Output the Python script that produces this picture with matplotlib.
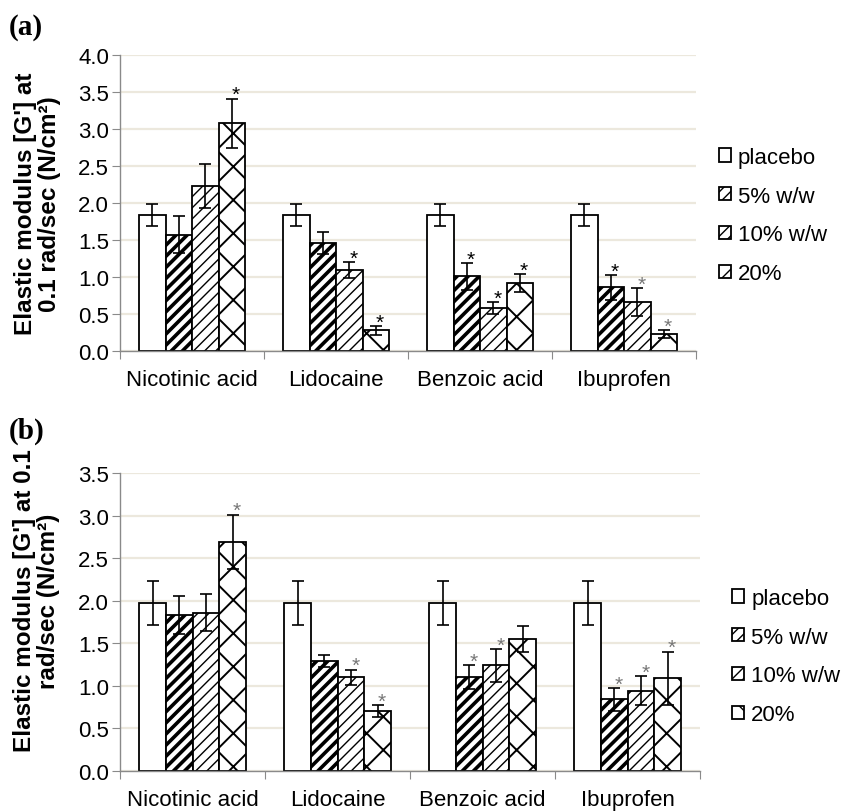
import matplotlib
matplotlib.use('Agg')
import matplotlib.pyplot as plt
import numpy as np

plt.rcParams['font.family'] = ['Liberation Sans', 'DejaVu Sans']

drugs = ['Nicotinic acid', 'Lidocaine', 'Benzoic acid', 'Ibuprofen']
groups = ['placebo', '5% w/w', '10% w/w', '20%']

# panel (a)
a_placebo = [1.84, 1.84, 1.84, 1.84]
a_5 = [1.57, 1.46, 1.01, 0.86]
a_10 = [2.23, 1.09, 0.58, 0.66]
a_20 = [3.08, 0.28, 0.92, 0.23]
a_placebo_err = [0.15, 0.15, 0.15, 0.15]
a_5_err = [0.25, 0.15, 0.18, 0.17]
a_10_err = [0.30, 0.11, 0.08, 0.19]
a_20_err = [0.33, 0.06, 0.12, 0.05]
a_sig = [[0, 0, 0, 0], [0, 0, 1, 1], [0, 1, 1, 1], [1, 1, 1, 1]]

# panel (b)
b_placebo = [1.97, 1.97, 1.97, 1.97]
b_5 = [1.83, 1.29, 1.10, 0.84]
b_10 = [1.86, 1.10, 1.24, 0.94]
b_20 = [2.69, 0.70, 1.55, 1.09]
b_placebo_err = [0.26, 0.26, 0.26, 0.26]
b_5_err = [0.22, 0.07, 0.14, 0.13]
b_10_err = [0.22, 0.09, 0.19, 0.17]
b_20_err = [0.32, 0.07, 0.15, 0.31]
b_sig = [[0, 0, 0, 0], [0, 0, 1, 1], [0, 1, 1, 1], [1, 1, 0, 1]]

hatches = ['', '///', '///', 'x']
hatch_lw = [1.0, 2.6, 1.0, 1.4]
bar_w = 0.184
grid_col = '#ECE8DD'
spine_col = '#8a8a8a'


def panel(ax, vals, errs, sig, ymax, star_gray):
	x = np.arange(len(drugs))
	for k in range(4):
		pos = x + (k - 1.5) * bar_w
		with plt.rc_context({'hatch.linewidth': hatch_lw[k]}):
			bars = ax.bar(pos, vals[k], bar_w, color='white', edgecolor='black',
				linewidth=1.3, hatch=hatches[k], label=groups[k], zorder=2)
		for b in bars:
			if hasattr(b, 'set_hatch_linewidth'):
				b.set_hatch_linewidth(hatch_lw[k])
		ax.errorbar(pos, vals[k], yerr=errs[k], fmt='none', ecolor='black',
			elinewidth=1.2, capsize=4, capthick=1.2, zorder=3)
		for i in range(len(drugs)):
			if sig[k][i]:
				col = '#777777' if (k, i) in star_gray else 'black'
				ax.annotate('*', (pos[i] + 0.03, vals[k][i] + errs[k][i]),
					xytext=(0, -4), textcoords='offset points', ha='center',
					va='bottom', fontsize=15, color=col, zorder=4)
	ax.set_xlim(-0.5, 3.5)
	ax.set_ylim(0, ymax)
	ax.set_yticks(np.arange(0, ymax + 0.01, 0.5))
	ax.set_yticklabels(['%.1f' % v for v in np.arange(0, ymax + 0.01, 0.5)])
	ax.set_xticks(np.arange(-0.5, 3.6, 1))
	ax.set_xticklabels([])
	ax.set_xticks(x, minor=True)
	ax.set_xticklabels(drugs, minor=True, fontsize=16)
	ax.tick_params(axis='x', which='minor', length=0, pad=13)
	ax.tick_params(axis='x', which='major', length=6, color=spine_col)
	ax.tick_params(axis='y', length=6, color=spine_col, labelsize=16, pad=2)
	ax.yaxis.grid(True, color=grid_col, linewidth=1.6, zorder=0)
	ax.set_axisbelow(True)
	for s in ['top', 'right']:
		ax.spines[s].set_visible(False)
	for s in ['left', 'bottom']:
		ax.spines[s].set_color(spine_col)
		ax.spines[s].set_linewidth(1.0)


fig = plt.figure(figsize=(8.41, 8.12), dpi=100)

ax1 = fig.add_axes([0.1427, 0.5665, 0.685, 0.3645])
panel(ax1, [a_placebo, a_5, a_10, a_20], [a_placebo_err, a_5_err, a_10_err, a_20_err],
	a_sig, 4.0, [(2, 3), (3, 3)])
ax1.set_ylabel("Elastic modulus [G'] at\n0.1 rad/sec (N/cm²)", fontsize=17.5,
	fontweight='bold', linespacing=1.05)
ax1.yaxis.set_label_coords(-0.103, 0.5)
ax1.legend(loc='center left', bbox_to_anchor=(1.04, 0.458), frameon=False, fontsize=16,
	handlelength=0.55, handleheight=0.55, handletextpad=0.3, labelspacing=0.8,
	borderpad=0, borderaxespad=0)

ax2 = fig.add_axes([0.1427, 0.0493, 0.690, 0.367])
panel(ax2, [b_placebo, b_5, b_10, b_20], [b_placebo_err, b_5_err, b_10_err, b_20_err],
	b_sig, 3.5, [(1, 1), (1, 2), (1, 3), (2, 1), (2, 2), (2, 3), (3, 0), (3, 1), (3, 3)])
ax2.set_ylabel("Elastic modulus [G'] at 0.1\nrad/sec (N/cm²)", fontsize=17.5,
	fontweight='bold', linespacing=1.05)
ax2.yaxis.set_label_coords(-0.103, 0.574)
ax2.legend(loc='center left', bbox_to_anchor=(1.055, 0.384), frameon=False, fontsize=16,
	handlelength=0.55, handleheight=0.55, handletextpad=0.3, labelspacing=0.8,
	borderpad=0, borderaxespad=0)

fig.text(0.01, 0.983, '(a)', fontsize=21, fontweight='bold', va='top',
	family=['Liberation Serif', 'DejaVu Serif'])
fig.text(0.01, 0.486, '(b)', fontsize=21, fontweight='bold', va='top',
	family=['Liberation Serif', 'DejaVu Serif'])

fig.savefig('out.png', dpi=100)
